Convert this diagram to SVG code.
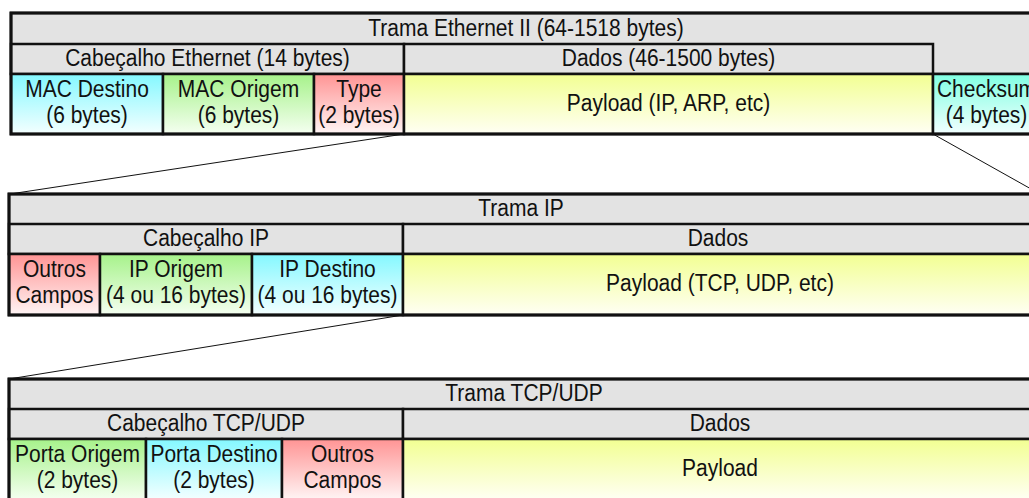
<svg xmlns="http://www.w3.org/2000/svg" width="1029" height="498" viewBox="0 0 1029 498">
<style>
text{font-family:"Liberation Sans",Arial,sans-serif;font-size:21px;fill:#111;text-anchor:middle}
.g{fill:#e3e3e3;stroke:#111;stroke-width:2.5}
.c{stroke:#111;stroke-width:2.5}
.o{fill:none;stroke:#111;stroke-width:3}
.ln{stroke:#111;stroke-width:1;fill:none}
</style>
<defs>
<linearGradient id="cy" x1="0" y1="0" x2="0" y2="1"><stop offset="0" stop-color="#84f8ff"/><stop offset="1" stop-color="#f4ffff"/></linearGradient>
<linearGradient id="gr" x1="0" y1="0" x2="0" y2="1"><stop offset="0" stop-color="#a6f28a"/><stop offset="1" stop-color="#f5fff1"/></linearGradient>
<linearGradient id="rd" x1="0" y1="0" x2="0" y2="1"><stop offset="0" stop-color="#ff9494"/><stop offset="1" stop-color="#fff5f5"/></linearGradient>
<linearGradient id="yl" x1="0" y1="0" x2="0" y2="1"><stop offset="0" stop-color="#f2ff92"/><stop offset="1" stop-color="#fffff4"/></linearGradient>
<linearGradient id="aq" x1="0" y1="0" x2="0" y2="1"><stop offset="0" stop-color="#80ffe2"/><stop offset="1" stop-color="#f2ffff"/></linearGradient>
</defs>

<g id="connectors">
<line class="ln" x1="404" y1="134" x2="10" y2="194"/>
<line class="ln" x1="933" y1="134" x2="1040" y2="194"/>
<line class="ln" x1="403" y1="315" x2="9" y2="379"/>
</g>

<g id="frame-ethernet">
<rect class="g" x="11" y="13" width="1029" height="61"/>
<text transform="translate(526,36) scale(1,1.1)">Trama Ethernet II (64-1518 bytes)</text>
<g id="eth-header">
<rect class="g" x="11" y="44" width="393" height="30"/>
<text transform="translate(207.5,66) scale(1,1.1)">Cabeçalho Ethernet (14 bytes)</text>
</g>
<g id="eth-data">
<rect class="g" x="404" y="44" width="529" height="30"/>
<text transform="translate(668.5,66) scale(1,1.1)">Dados (46-1500 bytes)</text>
</g>
<g id="mac-destino">
<rect class="c" fill="url(#cy)" x="11" y="74" width="152" height="60"/>
<text transform="translate(87,97) scale(1,1.1)">MAC Destino</text><text transform="translate(87,123) scale(1,1.1)">(6 bytes)</text>
</g>
<g id="mac-origem">
<rect class="c" fill="url(#gr)" x="163" y="74" width="151" height="60"/>
<text transform="translate(238.5,97) scale(1,1.1)">MAC Origem</text><text transform="translate(238.5,123) scale(1,1.1)">(6 bytes)</text>
</g>
<g id="eth-type">
<rect class="c" fill="url(#rd)" x="314" y="74" width="90" height="60"/>
<text transform="translate(359,97) scale(1,1.1)">Type</text><text transform="translate(359,123) scale(1,1.1)">(2 bytes)</text>
</g>
<g id="eth-payload">
<rect class="c" fill="url(#yl)" x="404" y="74" width="529" height="60"/>
<text transform="translate(668.5,111) scale(1,1.1)">Payload (IP, ARP, etc)</text>
</g>
<g id="eth-checksum">
<rect class="c" fill="url(#aq)" x="933" y="74" width="107" height="60"/>
<text transform="translate(986.5,97) scale(1,1.1)">Checksum</text><text transform="translate(986.5,123) scale(1,1.1)">(4 bytes)</text>
</g>
<rect class="o" x="11" y="13" width="1029" height="121"/>
</g>

<g id="frame-ip">
<rect class="g" x="9" y="194" width="1031" height="60"/>
<text transform="translate(521,216) scale(1,1.1)">Trama IP</text>
<g id="ip-header">
<rect class="g" x="9" y="224" width="394" height="30"/>
<text transform="translate(206,246) scale(1,1.1)">Cabeçalho IP</text>
</g>
<g id="ip-data">
<rect class="g" x="403" y="224" width="637" height="30"/>
<text transform="translate(718,246) scale(1,1.1)">Dados</text>
</g>
<g id="ip-outros">
<rect class="c" fill="url(#rd)" x="9" y="254" width="91" height="61"/>
<text transform="translate(54.5,277) scale(1,1.1)">Outros</text><text transform="translate(54.5,303) scale(1,1.1)">Campos</text>
</g>
<g id="ip-origem">
<rect class="c" fill="url(#gr)" x="100" y="254" width="152" height="61"/>
<text transform="translate(176,277) scale(1,1.1)">IP Origem</text><text transform="translate(176,303) scale(1,1.1)">(4 ou 16 bytes)</text>
</g>
<g id="ip-destino">
<rect class="c" fill="url(#cy)" x="252" y="254" width="151" height="61"/>
<text transform="translate(327.5,277) scale(1,1.1)">IP Destino</text><text transform="translate(327.5,303) scale(1,1.1)">(4 ou 16 bytes)</text>
</g>
<g id="ip-payload">
<rect class="c" fill="url(#yl)" x="403" y="254" width="637" height="61"/>
<text transform="translate(720,291) scale(1,1.1)">Payload (TCP, UDP, etc)</text>
</g>
<rect class="o" x="9" y="194" width="1031" height="121"/>
</g>

<g id="frame-tcp">
<rect class="g" x="9" y="379" width="1031" height="60"/>
<text transform="translate(524,401) scale(1,1.1)">Trama TCP/UDP</text>
<g id="tcp-header">
<rect class="g" x="9" y="409" width="394" height="30"/>
<text transform="translate(206,431) scale(1,1.1)">Cabeçalho TCP/UDP</text>
</g>
<g id="tcp-data">
<rect class="g" x="403" y="409" width="637" height="30"/>
<text transform="translate(720,431) scale(1,1.1)">Dados</text>
</g>
<g id="porta-origem">
<rect class="c" fill="url(#gr)" x="9" y="439" width="137" height="61"/>
<text transform="translate(77.5,462) scale(1,1.1)">Porta Origem</text><text transform="translate(77.5,488) scale(1,1.1)">(2 bytes)</text>
</g>
<g id="porta-destino">
<rect class="c" fill="url(#cy)" x="146" y="439" width="136" height="61"/>
<text transform="translate(214,462) scale(1,1.1)">Porta Destino</text><text transform="translate(214,488) scale(1,1.1)">(2 bytes)</text>
</g>
<g id="tcp-outros">
<rect class="c" fill="url(#rd)" x="282" y="439" width="121" height="61"/>
<text transform="translate(342.5,462) scale(1,1.1)">Outros</text><text transform="translate(342.5,488) scale(1,1.1)">Campos</text>
</g>
<g id="tcp-payload">
<rect class="c" fill="url(#yl)" x="403" y="439" width="637" height="61"/>
<text transform="translate(720,476) scale(1,1.1)">Payload</text>
</g>
<rect class="o" x="9" y="379" width="1031" height="121"/>
</g>
</svg>
